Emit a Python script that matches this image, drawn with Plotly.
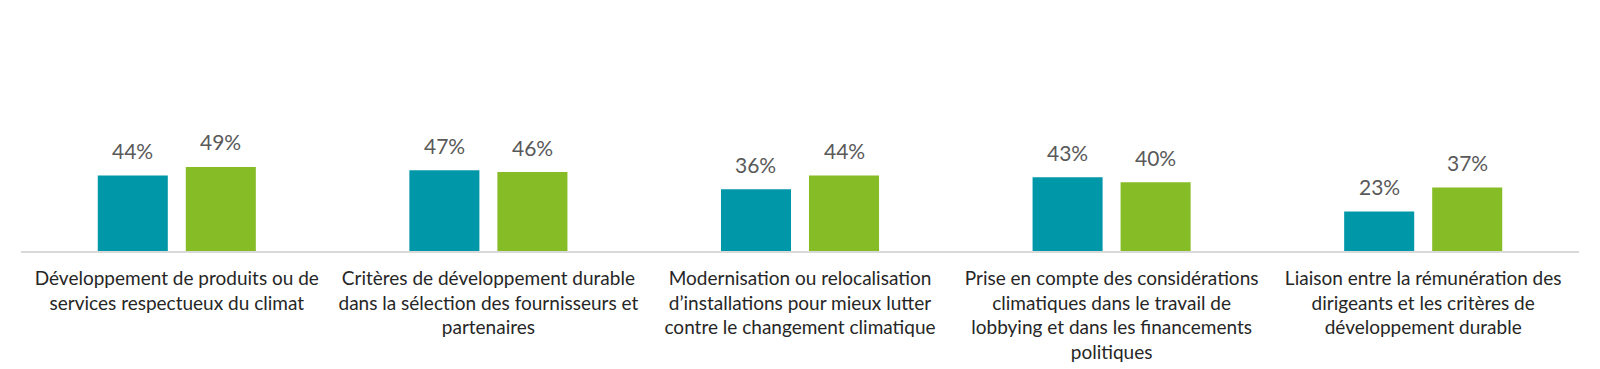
import plotly.graph_objects as go

categories = [
    "Développement de produits ou de<br>services respectueux du climat",
    "Critères de développement durable<br>dans la sélection des fournisseurs et<br>partenaires",
    "Modernisation ou relocalisation<br>d’installations pour mieux lutter<br>contre le changement climatique",
    "Prise en compte des considérations<br>climatiques dans le travail de<br>lobbying et dans les financements<br>politiques",
    "Liaison entre la rémunération des<br>dirigeants et les critères de<br>développement durable",
]
series_a = [44, 47, 36, 43, 23]
series_b = [49, 46, 44, 40, 37]

TEAL = "#0097A9"
GREEN = "#86BC25"
FONT = "Lato"
BARGAP = 0.435
GROUPGAP = 0.2045

fig = go.Figure()
series = [(series_a, TEAL), (series_b, GREEN)]
for vals, col in series:
    fig.add_trace(go.Bar(
        x=list(range(len(categories))), y=vals,
        marker=dict(color=col, line=dict(width=0)),
        showlegend=False, hoverinfo="skip",
    ))

# value labels, positioned at the data coordinates of each bar
slot = (1 - BARGAP) / len(series)
for j, (vals, col) in enumerate(series):
    off = (j - (len(series) - 1) / 2) * slot
    for i, v in enumerate(vals):
        fig.add_annotation(
            x=i + off, y=v, xref="x", yref="y", text=f"{v}%",
            showarrow=False, yanchor="middle", yshift=25,
            font=dict(family=FONT, size=21, color="#595959"),
        )

fig.update_layout(
    width=1592, height=361,
    margin=dict(l=13, r=21, t=140, b=118),
    paper_bgcolor="white", plot_bgcolor="white",
    barmode="group", bargap=BARGAP, bargroupgap=GROUPGAP,
    font=dict(family=FONT),
)
fig.update_xaxes(
    range=[-0.5, len(categories) - 0.5],
    tickmode="array", tickvals=list(range(len(categories))), ticktext=categories,
    showline=True, linecolor="#D9D9D9", linewidth=2,
    showgrid=False, zeroline=False, ticks="", tickangle=0,
    ticklabelstandoff=9,
    tickfont=dict(family=FONT, size=19, color="#262626"),
    automargin=False,
)
fig.update_yaxes(range=[0, 60], visible=False, showgrid=False)

fig.write_html("out.html")
